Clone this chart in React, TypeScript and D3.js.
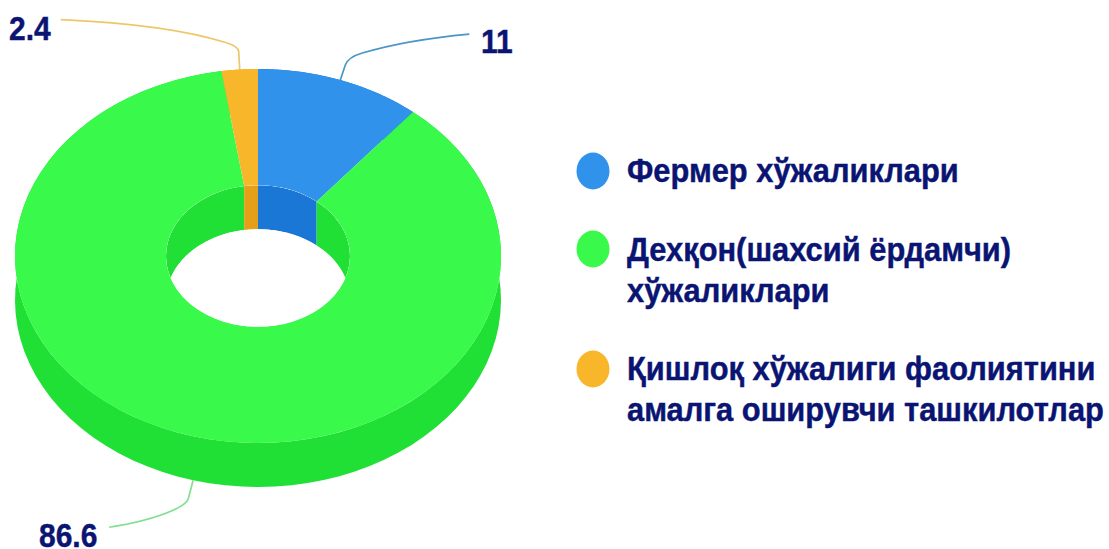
import React from "react";
import * as d3 from "d3";

const categories = ["Фермер хўжаликлари", "Дехқон(шахсий ёрдамчи) хўжаликлари", "Қишлоқ хўжалиги фаолиятини амалга оширувчи ташкилотлар"];
const values = [11, 86.6, 2.4];
const valueLabels = ["11", "86.6", "2.4"];
const topColors = ["#3092EA", "#39F94A", "#F8B72A"];
const sideColors = ["#1A77D6", "#20E036", "#E5A01A"];
const lineColors = ["#4A96C6", "#7FE08F", "#EDC76A"];
const legendLines = [["Фермер хўжаликлари"], ["Дехқон(шахсий ёрдамчи)", "хўжаликлари"], ["Қишлоқ хўжалиги фаолиятини", "амалга оширувчи ташкилотлар"]];

const W = 1109, H = 549;
const cx = 258, cy = 256, R = 243, r = 92, tilt = 187 / 243, depth = 44;
const navy = "#0A1472";
const font = "'Liberation Sans', Arial, sans-serif";

const pie = d3.pie<number>().sort(null);
const slices = pie(values);
const arc = d3.arc<d3.PieArcDatum<number>>().innerRadius(r).outerRadius(R);

const pt = (a: number, rad: number, dy = 0): [number, number] => [
  cx + rad * Math.sin(a),
  cy - rad * tilt * Math.cos(a) + dy,
];

function wall(s: d3.PieArcDatum<number>, rad: number): string {
  const n = 80;
  const as = d3.range(n + 1).map((i) => s.startAngle + ((s.endAngle - s.startAngle) * i) / n);
  const pts = [...as.map((a) => pt(a, rad)), ...as.slice().reverse().map((a) => pt(a, rad, depth))];
  return (d3.line()(pts) as string) + "Z";
}

const mid = (s: d3.PieArcDatum<number>) => (s.startAngle + s.endAngle) / 2;
const [bx, by] = pt(mid(slices[0]), R);
const [gx, gy] = pt(mid(slices[1]), R, depth);
const [ox, oy] = pt(mid(slices[2]), R);
const leaders = [
  `M${bx},${by} L${bx + 5},${by - 15} Q${bx + 8},${by - 23} ${bx + 22},${by - 27} Q${bx + 65},${by - 40} ${bx + 129},${by - 46}`,
  `M${gx},${gy} L${gx - 5},${gy + 19} Q${gx - 7},${gy + 24} ${gx - 20},${gy + 30} Q${gx - 45},${gy + 41} ${gx - 84},${gy + 47}`,
  `M${ox},${oy} L${ox - 1},${oy - 18} Q${ox - 1},${oy - 23} ${ox - 14},${oy - 27} Q${ox - 70},${oy - 45} ${ox - 179},${oy - 50}`,
];
const labelPos = [
  { x: 481, y: 53 },
  { x: 39, y: 547 },
  { x: 9, y: 40 },
];
const legendCy = [171, 249, 369];
const legendBase = [[182, 0], [261, 302], [380, 421]];

export default function App() {
  return (
    <svg width={W} height={H} viewBox={`0 0 ${W} ${H}`} role="img" aria-label={categories.join(", ")}
      style={{ position: "absolute", left: 0, top: 0, background: "#fff" }}>
      <defs>
        <clipPath id="hole">
          <ellipse cx={cx} cy={cy} rx={r} ry={r * tilt} />
        </clipPath>
      </defs>
      {slices.map((s, i) => <path key={i} d={wall(s, R)} fill={sideColors[i]} />)}
      <g transform={`translate(${cx},${cy}) scale(1,${tilt})`}>
        {slices.map((s, i) => <path key={i} d={arc(s) as string} fill={topColors[i]} />)}
      </g>
      <g clipPath="url(#hole)">
        <ellipse cx={cx} cy={cy} rx={r} ry={r * tilt} fill="#fff" />
        {slices.map((s, i) => <path key={i} d={wall(s, r)} fill={sideColors[i]} />)}
        <ellipse cx={cx} cy={cy + depth} rx={r} ry={r * tilt} fill="#fff" />
      </g>
      {leaders.map((d, i) => <path key={i} d={d} fill="none" stroke={lineColors[i]} strokeWidth={1.7} />)}
      {valueLabels.map((t, i) => (
        <text key={i} transform={`translate(${labelPos[i].x},${labelPos[i].y}) scale(1,1.12)`}
          fontFamily={font} fontWeight={700} fontSize={30} fill={navy} stroke={navy} strokeWidth={0.4}>{t}</text>
      ))}
      {legendLines.map((lines, i) => (
        <g key={i}>
          <ellipse cx={593} cy={legendCy[i]} rx={16.5} ry={18.5} fill={topColors[i]} />
          {lines.map((l, j) => (
            <text key={j} transform={`translate(627,${legendBase[i][j]}) scale(0.995,1.1)`}
              fontFamily={font} fontWeight={700} fontSize={31} fill={navy} stroke={navy} strokeWidth={0.4}>{l}</text>
          ))}
        </g>
      ))}
    </svg>
  );
}
